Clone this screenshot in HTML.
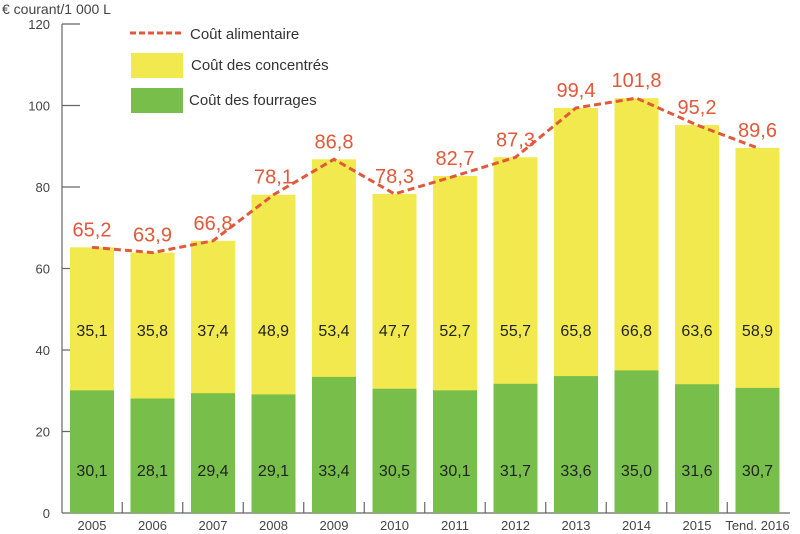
<!DOCTYPE html>
<html><head><meta charset="utf-8"><style>
body{margin:0;background:#fff;width:800px;height:534px;overflow:hidden}
svg{display:block;font-family:"Liberation Sans",sans-serif}
</style></head><body>
<svg id="s" width="800" height="534" xmlns="http://www.w3.org/2000/svg"></svg>
<script>
const years=["2005","2006","2007","2008","2009","2010","2011","2012","2013","2014","2015","Tend. 2016"];
const fo=[30.1,28.1,29.4,29.1,33.4,30.5,30.1,31.7,33.6,35.0,31.6,30.7];
const co=[35.1,35.8,37.4,48.9,53.4,47.7,52.7,55.7,65.8,66.8,63.6,58.9];
const tot=[65.2,63.9,66.8,78.1,86.8,78.3,82.7,87.3,99.4,101.8,95.2,89.6];
const y0=513,k=4.075,f=v=>(""+v.toFixed(1)).replace(".",",");
const Y=v=>y0-v*k, X=i=>92+60.5*i;
let h='';
h+=`<line x1="62" y1="24" x2="62" y2="${y0}" stroke="#666" stroke-width="1.2"/>`;
h+=`<line x1="62" y1="${y0}" x2="790" y2="${y0}" stroke="#666" stroke-width="1.2"/>`;
for(let v=0;v<=120;v+=20){const y=Y(v);
 if(v>0)h+=`<line x1="62" y1="${y}" x2="80" y2="${y}" stroke="#666" stroke-width="1.2"/>`;
 h+=`<text x="50" y="${y+5}" font-size="13" fill="#444" text-anchor="end">${v}</text>`;}
h+=`<text x="2" y="14" font-size="14" fill="#444">€ courant/1 000 L</text>`;
for(let i=0;i<12;i++){const x=X(i);
 h+=`<rect x="${x-22}" y="${Y(tot[i])}" width="44" height="${co[i]*k+0.5}" fill="#f2e94e"/>`;
 h+=`<rect x="${x-22}" y="${Y(fo[i])}" width="44" height="${fo[i]*k}" fill="#77bf4a"/>`;
 h+=`<text x="${x}" y="476" font-size="16" fill="#222" text-anchor="middle">${f(fo[i])}</text>`;
 h+=`<text x="${x}" y="336" font-size="16" fill="#222" text-anchor="middle">${f(co[i])}</text>`;
 h+=`<text x="${x}" y="${Y(tot[i])-11}" font-size="20" fill="#e0593a" text-anchor="middle">${f(tot[i])}</text>`;
 h+=`<text x="${x}" y="530" font-size="13" fill="#444" text-anchor="middle">${years[i]}</text>`;
 if(i<11)h+=`<line x1="${x+30.25}" y1="${y0-11}" x2="${x+30.25}" y2="${y0}" stroke="#666" stroke-width="1.2"/>`;
}
h+=`<polyline fill="none" stroke="#e0593a" stroke-width="3" stroke-dasharray="7,4" points="${tot.map((v,i)=>X(i)+','+Y(v)).join(' ')}"/>`;
h+=`<line x1="130" y1="33" x2="183" y2="33" stroke="#e0593a" stroke-width="3" stroke-dasharray="6,3"/>`;
h+=`<text x="190" y="39" font-size="15" fill="#333">Coût alimentaire</text>`;
h+=`<rect x="131" y="53" width="52" height="25" fill="#f2e94e"/>`;
h+=`<text x="191" y="70" font-size="15" fill="#333">Coût des concentrés</text>`;
h+=`<rect x="131" y="88" width="52" height="25" fill="#77bf4a"/>`;
h+=`<text x="189" y="105" font-size="15" fill="#333">Coût des fourrages</text>`;
document.getElementById('s').innerHTML=h;
</script>
</body></html>
